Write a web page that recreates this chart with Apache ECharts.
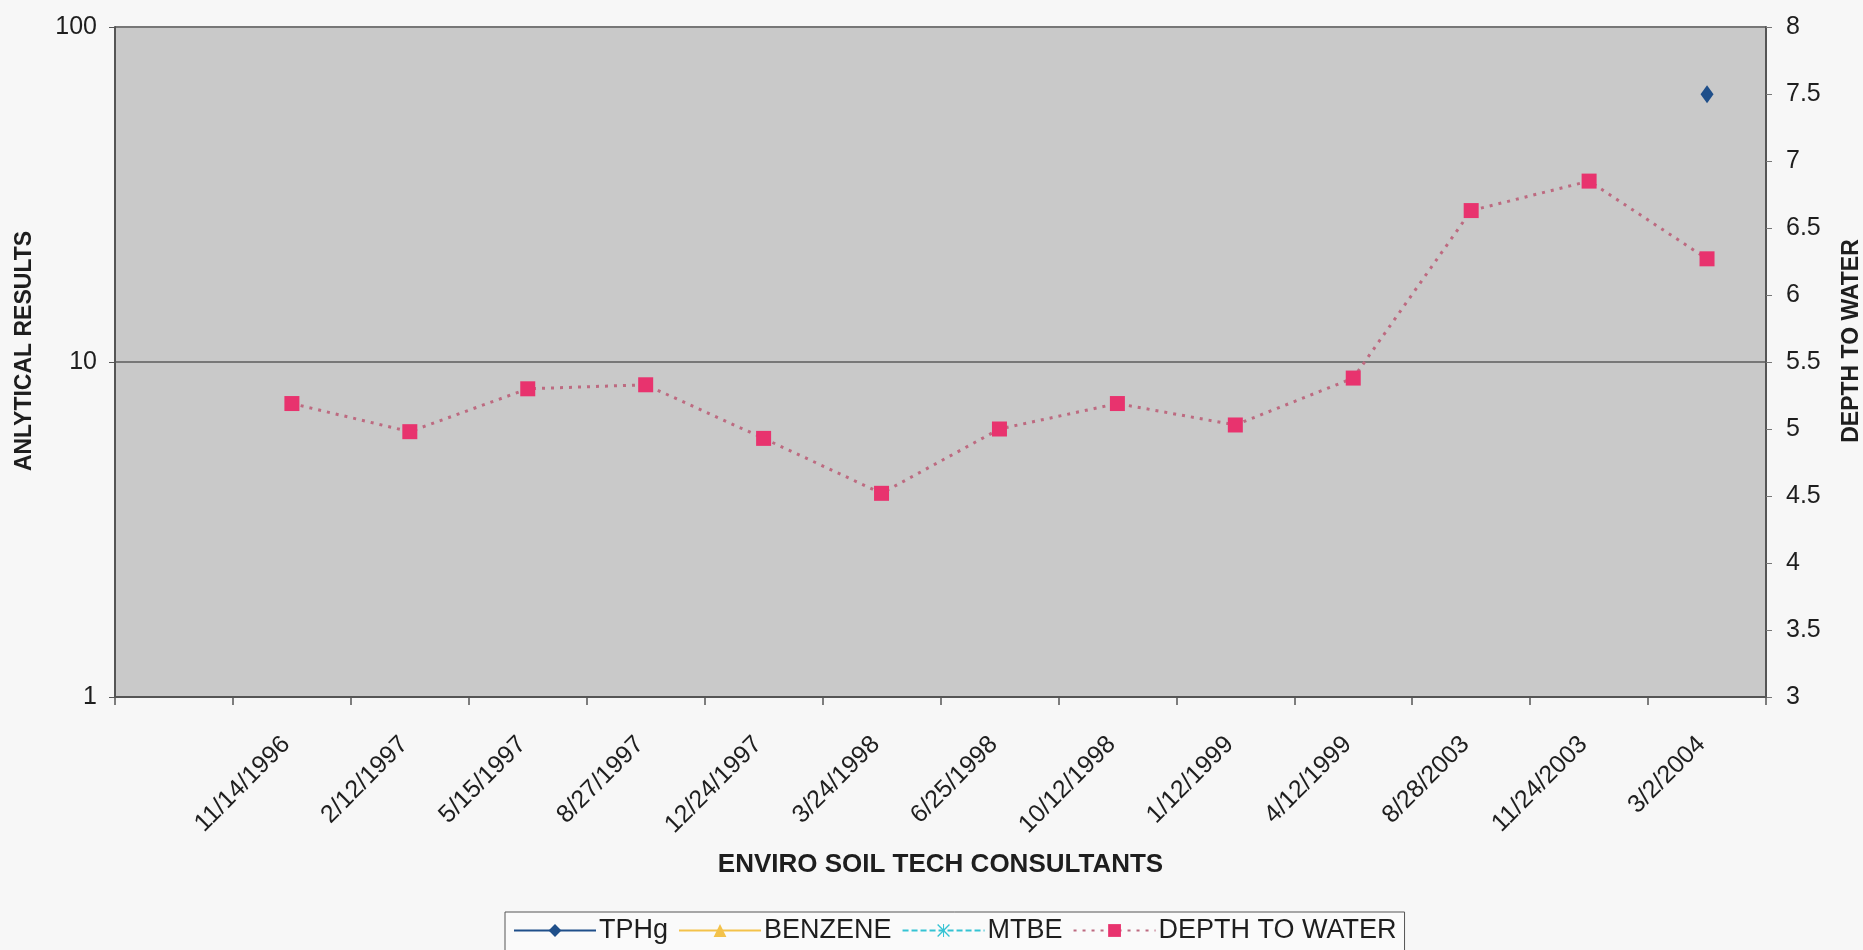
<!DOCTYPE html>
<html>
<head>
<meta charset="utf-8">
<script src="https://cdn.jsdelivr.net/npm/echarts@6/dist/echarts.min.js"></script>
<style>
  html, body { margin: 0; padding: 0; background: #f7f7f7; }
  #chart { width: 1863px; height: 950px; }
</style>
</head>
<body>
<div id="chart"></div>
<script>
// ---- data ----
const categories = ['', '11/14/1996', '2/12/1997', '5/15/1997', '8/27/1997', '12/24/1997', '3/24/1998',
  '6/25/1998', '10/12/1998', '1/12/1999', '4/12/1999', '8/28/2003', '11/24/2003', '3/2/2004'];
const tphg = [null, null, null, null, null, null, null, null, null, null, null, null, null, 63];
const benzene = [null, null, null, null, null, null, null, null, null, null, null, null, null, null];
const mtbe = [null, null, null, null, null, null, null, null, null, null, null, null, null, null];
const depthToWater = [null, 5.19, 4.98, 5.30, 5.33, 4.93, 4.52, 5.00, 5.19, 5.03, 5.38, 6.63, 6.85, 6.27];
const leftAxisRange = [1, 100];
const rightAxisRange = [3, 8];
const rightAxisStep = 0.5;

const FONT = '"Liberation Sans", Arial, sans-serif';
const TXT = '#1e1e1e';
const asterisk = 'path://M0,1.5 L1.5,0 L10,8.5 L18.5,0 L20,1.5 L11.5,10 L20,18.5 L18.5,20 L10,11.5 L1.5,20 L0,18.5 L8.5,10 Z M9.2,0 L10.8,0 L10.8,20 L9.2,20 Z';

const chart = echarts.init(document.getElementById('chart'), null, { renderer: 'canvas' });
chart.setOption({
  backgroundColor: '#f7f7f7',
  animation: false,
  textStyle: { fontFamily: FONT, color: TXT },
  grid: { left: 115, right: 97, top: 27, height: 670, show: true, backgroundColor: '#c9c9c9', borderWidth: 0,
          containLabel: false, outerBoundsMode: 'none' },
  legend: {
    left: 505, top: 912,
    padding: [5, 8, 12, 8],
    itemWidth: 82, itemHeight: 16, itemGap: 10,
    backgroundColor: '#fafafa', borderColor: '#555', borderWidth: 1,
    textStyle: { fontFamily: FONT, fontSize: 27, color: TXT, padding: [0, 0, 0, -2] },
    data: ['TPHg', 'BENZENE', 'MTBE', 'DEPTH TO WATER']
  },
  xAxis: {
    type: 'category',
    data: categories,
    boundaryGap: true,
    name: 'ENVIRO SOIL TECH CONSULTANTS',
    nameLocation: 'middle',
    nameGap: 155,
    nameTextStyle: { fontFamily: FONT, fontWeight: 'bold', fontSize: 26, color: TXT },
    axisLine: { lineStyle: { color: '#555', width: 2 } },
    axisTick: { show: true, alignWithLabel: false, length: 8, lineStyle: { color: '#555', width: 1.5 } },
    axisLabel: { rotate: 45, margin: 38, fontSize: 25, color: TXT, fontFamily: FONT, interval: 0, padding: [0, 8, 0, 0] },
    splitLine: { show: false }
  },
  yAxis: [
    {
      type: 'log', logBase: 10,
      min: leftAxisRange[0], max: leftAxisRange[1],
      name: 'ANLYTICAL RESULTS',
      nameLocation: 'middle', nameRotate: 90, nameGap: 79,
      nameTextStyle: { fontFamily: FONT, fontWeight: 'bold', fontSize: 23, color: TXT, padding: [0, 0, 0, 22] },
      axisLine: { show: true, lineStyle: { color: '#555', width: 2 } },
      axisTick: { show: true, length: 6, lineStyle: { color: '#555' } },
      axisLabel: { fontSize: 25, color: TXT, fontFamily: FONT, margin: 18 },
      splitLine: { show: true, lineStyle: { color: '#777', width: 2 } },
      minorTick: { show: false }
    },
    {
      type: 'value',
      position: 'right',
      min: rightAxisRange[0], max: rightAxisRange[1], interval: rightAxisStep,
      name: 'DEPTH TO WATER',
      nameLocation: 'middle', nameRotate: 90, nameGap: 74,
      nameTextStyle: { fontFamily: FONT, fontWeight: 'bold', fontSize: 23, color: TXT, padding: [0, 0, 0, 42] },
      axisLine: { show: true, lineStyle: { color: '#555', width: 2 } },
      axisTick: { show: true, length: 6, lineStyle: { color: '#777' } },
      axisLabel: { fontSize: 25, color: TXT, fontFamily: FONT, margin: 20 },
      splitLine: { show: false }
    }
  ],
  series: [
    {
      name: 'TPHg', type: 'line', yAxisIndex: 0, data: tphg,
      symbol: 'diamond', symbolSize: [13, 18],
      itemStyle: { color: '#1f4f8a' },
      lineStyle: { color: '#1f4f8a', width: 2 }
    },
    {
      name: 'BENZENE', type: 'line', yAxisIndex: 0, data: benzene,
      symbol: 'triangle', symbolSize: 14,
      itemStyle: { color: '#f3c24a' },
      lineStyle: { color: '#f3c24a', width: 2 }
    },
    {
      name: 'MTBE', type: 'line', yAxisIndex: 0, data: mtbe,
      symbol: asterisk, symbolSize: 15,
      itemStyle: { color: '#35c3d3' },
      lineStyle: { color: '#35c3d3', width: 2, type: [6, 3] }
    },
    {
      name: 'DEPTH TO WATER', type: 'line', yAxisIndex: 1, data: depthToWater,
      symbol: 'rect', symbolSize: 15,
      connectNulls: false,
      itemStyle: { color: '#e8336e' },
      lineStyle: { color: '#bd6a80', width: 3, type: [3, 6] },
      z: 5
    }
  ]
});
</script>
</body>
</html>
